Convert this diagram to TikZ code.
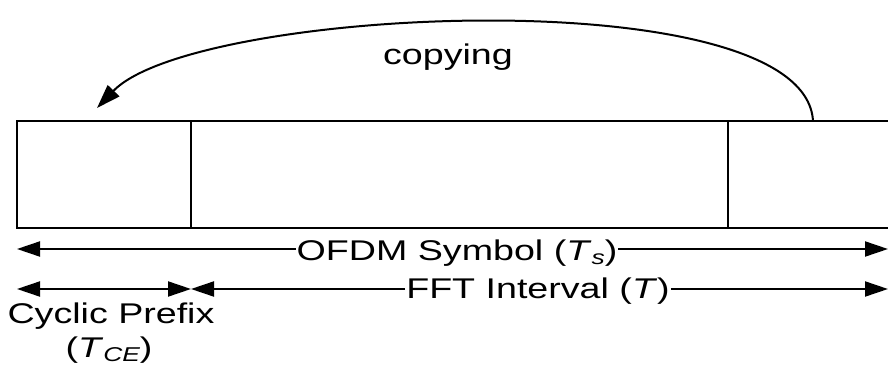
\documentclass[tikz,border=0pt]{standalone}
\usepackage{fontspec}
\setmainfont{Liberation Sans}[FakeStretch=1.32]
\usetikzlibrary{arrows.meta}

% lowered italic subscript in the text font
\newcommand{\lowsub}[1]{\raisebox{-0.32ex}{\fontsize{20}{20}\selectfont\itshape #1}}

\tikzset{
  frame/.style={line width=2.2pt},
  tip/.style={Triangle[length=23pt,width=15pt]},
  dimline/.style={line width=2pt, -{Triangle[length=23pt,width=15pt]}},
  dimboth/.style={line width=2pt, {Triangle[length=23pt,width=15pt]}-{Triangle[length=23pt,width=15pt]}},
  label/.style={font=\fontsize{28.5}{31}\selectfont, inner xsep=1pt, inner ysep=0pt, anchor=base},
  seg/.style={frame, draw, rectangle, minimum height=107pt, anchor=north west, inner sep=0pt, outer sep=0pt},
}

\begin{document}
\begin{tikzpicture}[x=1pt, y=-1pt]
  \useasboundingbox (0,0) rectangle (888,366);

  % symbol frame: cyclic prefix, body and copied tail (frame runs on past the right edge)
  \node[seg, minimum width=174pt] (cp) at (17,121) {};
  \node[seg, minimum width=537pt] (body) at (191,121) {};
  \coordinate (tailTop) at (895,121);
  \coordinate (tailBot) at (895,228);
  \draw[frame] (body.north east) -- (tailTop);
  \draw[frame] (body.south east) -- (tailBot);

  % copying arrow from the tail back to the prefix
  \coordinate (src) at (813,121);
  \coordinate (dst) at (97,108);
  \node[label] (copy) at (448,65) {copying};
  \draw[line width=2pt, -{Triangle[length=24pt,width=16pt]}]
    (src) .. controls (805,-22) and (195,6) .. (dst);

  % OFDM symbol duration
  \coordinate (sL) at (17,249);
  \coordinate (sR) at (888,249);
  \node[label] (ofdm) at (457,260) {OFDM Symbol (\textit{T}\lowsub{s})};
  \draw[dimline] (ofdm.west |- sL) -- (sL);
  \draw[dimline] (ofdm.east |- sR) -- (sR);

  % FFT interval and cyclic prefix durations
  \coordinate (fL) at (191,289);
  \coordinate (fR) at (888,289);
  \coordinate (cL) at (17,289);
  \node[label] (fft) at (538,298) {FFT Interval (\textit{T})};
  \draw[dimline] (fft.west |- fL) -- (fL);
  \draw[dimline] (fft.east |- fR) -- (fR);
  \draw[dimboth] (cL) -- (fL);

  \node[label] (cpname) at (111,323) {Cyclic Prefix};
  \node[label] (cpsym) at (109,357) {(\textit{T}\lowsub{CE})};
\end{tikzpicture}
\end{document}
